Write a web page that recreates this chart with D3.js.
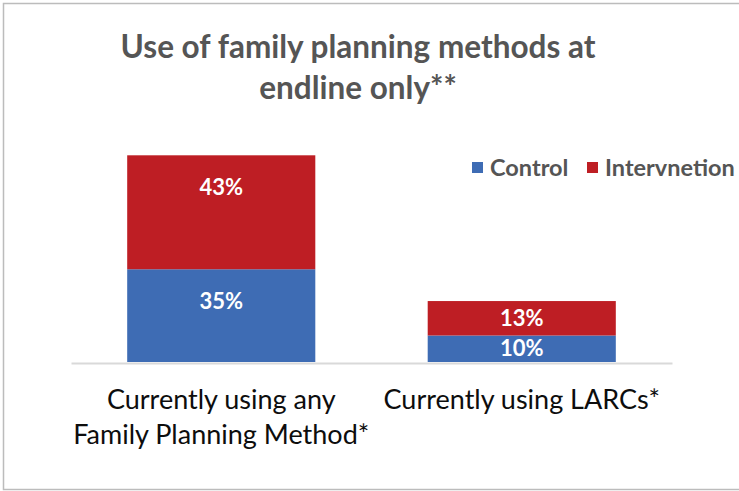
<!DOCTYPE html>
<html>
<head>
<meta charset="utf-8">
<script src="https://cdn.jsdelivr.net/npm/d3@7"></script>
<style>
  body { margin: 0; background: #fff; }
  svg { display: block; }
</style>
</head>
<body>
<script>
const categories = [
  ["Currently using any", "Family Planning Method*"],
  ["Currently using LARCs*"]
];
const series = ["Control", "Intervnetion"];
const control = [35, 10];
const intervention = [43, 13];
const colors = ["#3e6cb4", "#be1e24"];

const width = 739, height = 491;
const margin = { top: 150, right: 67, bottom: 129, left: 71 };

const svg = d3.select("body").append("svg")
  .attr("width", width)
  .attr("height", height);

// frame
svg.append("rect")
  .attr("x", 3.5).attr("y", 3.5)
  .attr("width", width + 10).attr("height", height - 5)
  .attr("fill", "none")
  .attr("stroke", "#bcbcbc")
  .attr("stroke-width", 1.5);

// title
svg.append("text")
  .attr("x", 358).attr("y", 58)
  .attr("text-anchor", "middle")
  .attr("font-family", "Lato")
  .attr("font-weight", "bold")
  .attr("font-size", 31.5)
  .attr("fill", "#555")
  .selectAll("tspan")
  .data(["Use of family planning methods at", "endline only**"])
  .join("tspan")
  .attr("x", 358)
  .attr("dy", (d, i) => i ? 41 : 0)
  .text(d => d);

const rows = categories.map((c, i) => ({ idx: i, Control: control[i], Intervnetion: intervention[i] }));
const stacked = d3.stack().keys(series)(rows);

const x = d3.scaleBand()
  .domain(d3.range(categories.length))
  .range([margin.left, width - margin.right])
  .paddingInner(0.374)
  .paddingOuter(0.187);

const y = d3.scaleLinear()
  .domain([0, 80])
  .range([height - margin.bottom, margin.top]);

// bars
const layer = svg.selectAll("g.layer")
  .data(stacked)
  .join("g")
  .attr("class", "layer")
  .attr("fill", (d, i) => colors[i]);

layer.selectAll("rect")
  .data(d => d)
  .join("rect")
  .attr("x", d => x(d.data.idx))
  .attr("width", x.bandwidth())
  .attr("y", d => y(d[1]))
  .attr("height", d => y(d[0]) - y(d[1]));

// value labels
layer.selectAll("text")
  .data(d => d)
  .join("text")
  .attr("x", d => x(d.data.idx) + x.bandwidth() / 2)
  .attr("y", d => y(d[1]) + Math.min((y(d[0]) - y(d[1])) / 2, 32))
  .attr("dy", "0.35em")
  .attr("text-anchor", "middle")
  .attr("font-family", "Lato")
  .attr("font-weight", "bold")
  .attr("font-size", 22)
  .attr("fill", "#fff")
  .text(d => (d[1] - d[0]) + "%");

// baseline axis
const xAxis = d3.axisBottom(x).tickSize(0).tickFormat("");
const axisG = svg.append("g")
  .attr("transform", `translate(0,${y(0) + 1})`)
  .call(xAxis);
axisG.select(".domain")
  .attr("stroke", "#d9d9d9")
  .attr("stroke-width", 2);

// category labels
svg.selectAll("text.cat")
  .data(categories)
  .join("text")
  .attr("class", "cat")
  .attr("text-anchor", "middle")
  .attr("font-family", "Lato")
  .attr("font-size", 27)
  .attr("fill", "#0d0d0d")
  .attr("y", y(0) + 47)
  .each(function (lines, i) {
    d3.select(this).selectAll("tspan")
      .data(lines)
      .join("tspan")
      .attr("x", x(i) + x.bandwidth() / 2)
      .attr("dy", (d, j) => j ? 35 : 0)
      .text(d => d);
  });

// legend
const legend = svg.append("g")
  .attr("font-family", "Lato")
  .attr("font-weight", "bold")
  .attr("font-size", 23.5)
  .attr("fill", "#555");
const legendX = [472, 587];
series.forEach((s, i) => {
  legend.append("rect")
    .attr("x", legendX[i]).attr("y", 162)
    .attr("width", 11).attr("height", 11)
    .attr("fill", colors[i]);
  legend.append("text")
    .attr("x", legendX[i] + 18).attr("y", 168)
    .attr("dy", "0.35em")
    .text(s);
});
</script>
</body>
</html>
